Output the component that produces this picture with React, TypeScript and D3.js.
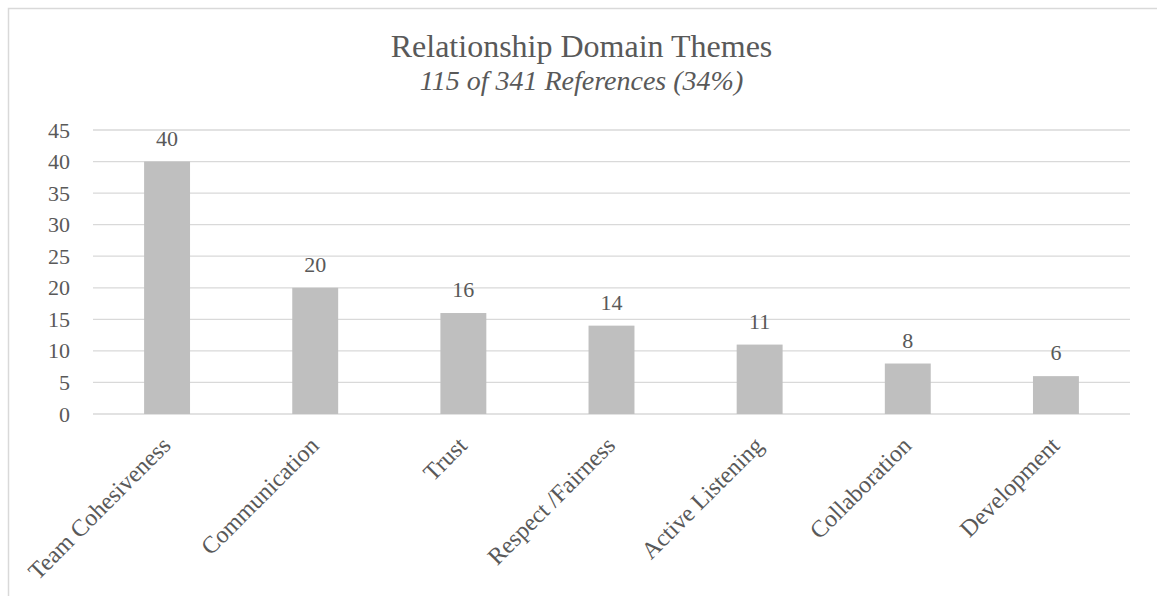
import React from "react";
import * as d3 from "d3";

const categories = ["Team Cohesiveness", "Communication", "Trust", "Respect /Fairness", "Active Listening", "Collaboration", "Development"];
const values = [40, 20, 16, 14, 11, 8, 6];
const yTicks = [0, 5, 10, 15, 20, 25, 30, 35, 40, 45];
const title = "Relationship Domain Themes";
const subtitle = "115 of 341 References (34%)";

const W = 1157;
const H = 596;
const FONT = "'Liberation Serif', 'Times New Roman', serif";
const TEXT = "#595959";

export default function App() {
  const x = d3.scaleBand<string>().domain(categories).range([93, 1130]).paddingInner(0.69).paddingOuter(0.345);
  const y = d3.scaleLinear().domain([0, 45]).range([414, 130]);
  return (
    <svg width={W} height={H} style={{ position: "absolute", left: 0, top: 0 }} fontFamily={FONT}>
      <rect x={0} y={0} width={W} height={H} fill="#fff" />
      <rect x={8.5} y={8.5} width={W + 20} height={H + 20} fill="none" stroke="#D9D9D9" strokeWidth={1.5} />
      <text x={581.5} y={57} textAnchor="middle" fontSize={32} fill={TEXT}>{title}</text>
      <text x={581.5} y={90} textAnchor="middle" fontSize={28} fontStyle="italic" fill={TEXT}>{subtitle}</text>
      {yTicks.map((t) => (
        <g key={t}>
          <line x1={93} x2={1130} y1={y(t)} y2={y(t)} stroke="#D9D9D9" strokeWidth={1.3} />
          <text x={70} y={y(t) + 7.5} textAnchor="end" fontSize={22} fill={TEXT}>{t}</text>
        </g>
      ))}
      {categories.map((c, i) => {
        const bx = x(c)!;
        const bw = x.bandwidth();
        const cx = bx + bw / 2;
        return (
          <g key={c}>
            <rect x={bx} y={y(values[i])} width={bw} height={y(0) - y(values[i])} fill="#BFBFBF" />
            <text x={cx} y={y(values[i]) - 16} textAnchor="middle" fontSize={22} fill={TEXT}>{values[i]}</text>
            <text transform={`translate(${cx + 5},${447}) rotate(-45)`} textAnchor="end" fontSize={24} fill={TEXT}>{c}</text>
          </g>
        );
      })}
    </svg>
  );
}
